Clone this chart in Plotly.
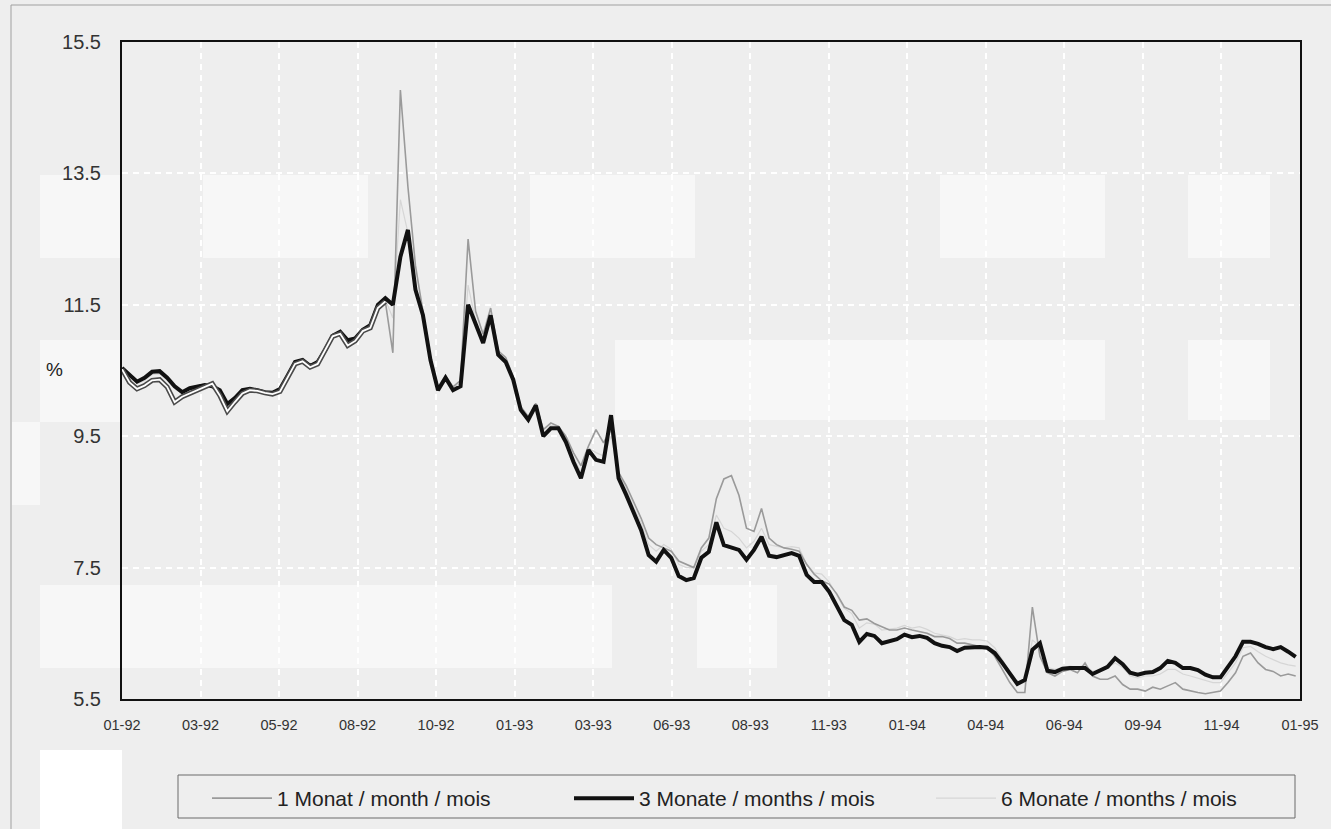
import plotly.graph_objects as go
import pandas as pd

# ---------------- data ----------------
X_TICK_LABELS = ["01-92", "03-92", "05-92", "08-92", "10-92", "01-93", "03-93", "06-93",
                 "08-93", "11-93", "01-94", "04-94", "06-94", "09-94", "11-94", "01-95"]
Y_TICKS = [5.5, 7.5, 9.5, 11.5, 13.5, 15.5]
SERIES_NAMES = ["1 Monat / month / mois", "3 Monate / months / mois", "6 Monate / months / mois"]

# weekly readings, first week of Jan 1992 to end of Dec 1994
THREE_M = [
    10.54, 10.43, 10.33, 10.39, 10.48, 10.49, 10.39, 10.26, 10.17, 10.23,
    10.26, 10.28, 10.26, 10.20, 9.99, 10.08, 10.20, 10.22, 10.20, 10.17,
    10.16, 10.22, 10.42, 10.63, 10.66, 10.57, 10.63, 10.81, 11.03, 11.09,
    10.96, 10.99, 11.12, 11.19, 11.50, 11.60, 11.50, 12.23, 12.64, 11.73,
    11.34, 10.66, 10.20, 10.39, 10.20, 10.26, 11.50, 11.19, 10.92, 11.34,
    10.74, 10.63, 10.36, 9.90, 9.75, 9.97, 9.50, 9.62, 9.62, 9.41,
    9.11, 8.86, 9.29, 9.14, 9.11, 9.82, 8.86, 8.61, 8.33, 8.07,
    7.69, 7.59, 7.77, 7.65, 7.37, 7.31, 7.34, 7.65, 7.74, 8.19,
    7.84, 7.80, 7.77, 7.62, 7.77, 7.97, 7.68, 7.66, 7.69, 7.72,
    7.68, 7.39, 7.28, 7.28, 7.13, 6.93, 6.70, 6.63, 6.37, 6.49,
    6.46, 6.35, 6.38, 6.41, 6.48, 6.44, 6.46, 6.43, 6.35, 6.31,
    6.29, 6.23, 6.28, 6.29, 6.29, 6.28, 6.20, 6.05, 5.90, 5.73,
    5.79, 6.25, 6.35, 5.93, 5.91, 5.96, 5.97, 5.97, 5.97, 5.88,
    5.94, 5.99, 6.12, 6.03, 5.90, 5.87, 5.90, 5.91, 5.97, 6.08,
    6.05, 5.97, 5.97, 5.94, 5.87, 5.83, 5.83, 6.00, 6.15, 6.37,
    6.37, 6.34, 6.29, 6.26, 6.29, 6.22, 6.14,
]
ONE_M = [
    10.52, 10.32, 10.22, 10.27, 10.35, 10.36, 10.25, 10.02, 10.10, 10.15,
    10.20, 10.24, 10.30, 10.12, 9.88, 10.02, 10.15, 10.20, 10.19, 10.16,
    10.14, 10.18, 10.38, 10.60, 10.64, 10.55, 10.60, 10.80, 11.02, 11.06,
    10.88, 10.95, 11.10, 11.15, 11.45, 11.55, 10.77, 14.77, 13.30, 12.10,
    11.40, 10.70, 10.25, 10.42, 10.25, 10.35, 12.50, 11.40, 11.05, 11.45,
    10.80, 10.70, 10.40, 9.95, 9.80, 10.00, 9.60, 9.70, 9.65, 9.50,
    9.25, 9.05, 9.35, 9.60, 9.40, 9.60, 8.95, 8.75, 8.50, 8.25,
    7.95, 7.85, 7.80, 7.75, 7.60, 7.55, 7.50, 7.80, 7.95, 8.55,
    8.85, 8.90, 8.60, 8.10, 8.05, 8.40, 7.95, 7.85, 7.80, 7.78,
    7.75, 7.55, 7.40, 7.30, 7.25, 7.10, 6.90, 6.85, 6.70, 6.72,
    6.65, 6.60, 6.55, 6.55, 6.58, 6.55, 6.52, 6.50, 6.45, 6.45,
    6.42, 6.35, 6.35, 6.32, 6.30, 6.28, 6.15, 5.95, 5.75, 5.60,
    5.60, 6.90, 6.15, 5.90, 5.85, 5.92, 5.95, 5.90, 6.05, 5.85,
    5.80, 5.80, 5.85, 5.72, 5.65, 5.65, 5.62, 5.68, 5.65, 5.70,
    5.75, 5.65, 5.62, 5.60, 5.58, 5.60, 5.62, 5.75, 5.90, 6.15,
    6.20, 6.05, 5.95, 5.92, 5.85, 5.88, 5.85,
]
SIX_M = [
    10.50, 10.40, 10.30, 10.35, 10.44, 10.45, 10.35, 10.22, 10.15, 10.20,
    10.24, 10.26, 10.25, 10.18, 9.98, 10.05, 10.18, 10.20, 10.18, 10.16,
    10.15, 10.20, 10.40, 10.60, 10.64, 10.56, 10.60, 10.78, 11.00, 11.06,
    10.94, 10.98, 11.10, 11.17, 11.48, 11.58, 11.30, 13.10, 12.60, 11.80,
    11.40, 10.72, 10.22, 10.40, 10.25, 10.30, 11.80, 11.25, 10.98, 11.38,
    10.78, 10.66, 10.40, 9.93, 9.78, 9.98, 9.55, 9.66, 9.66, 9.46,
    9.18, 8.95, 9.32, 9.25, 9.20, 9.50, 8.92, 8.70, 8.42, 8.18,
    7.85, 7.75, 7.85, 7.78, 7.55, 7.50, 7.50, 7.75, 7.85, 8.30,
    8.10, 8.05, 7.95, 7.80, 7.90, 8.10, 7.85, 7.82, 7.80, 7.82,
    7.80, 7.55, 7.42, 7.40, 7.28, 7.08, 6.88, 6.80, 6.58, 6.66,
    6.64, 6.55, 6.56, 6.58, 6.62, 6.58, 6.60, 6.56, 6.50, 6.48,
    6.45, 6.40, 6.42, 6.40, 6.40, 6.38, 6.28, 6.10, 5.92, 5.72,
    5.75, 6.40, 6.30, 5.98, 5.95, 5.98, 6.00, 5.98, 6.02, 5.92,
    5.95, 5.98, 6.05, 5.98, 5.85, 5.82, 5.85, 5.85, 5.88, 5.95,
    5.95, 5.88, 5.85, 5.82, 5.78, 5.75, 5.75, 5.90, 6.05, 6.28,
    6.30, 6.22, 6.15, 6.10, 6.05, 6.02, 6.00,
]
assert len(THREE_M) == len(ONE_M) == len(SIX_M)

dates = pd.date_range("1992-01-01", periods=len(THREE_M), freq="7D")
HOLLOW_END = 36  # 1-month line appears as a double (hollow) stroke through Aug 1992

start, end = pd.Timestamp("1992-01-01"), pd.Timestamp("1995-01-01")
n = len(X_TICK_LABELS) - 1
tickvals = [start + (end - start) * k / n for k in range(n + 1)]

# ---------------- geometry helpers ----------------
W, H = 1331, 829
L, R, T, B = 122, 31, 42, 130
PW, PH = W - L - R, H - T - B


def px(x):
    return (x - L) / PW


def py(y):
    return (H - B - y) / PH


FONT = "Liberation Sans, Arial, sans-serif"
BG = "#eeeeee"

fig = go.Figure()
fig.add_trace(go.Scatter(x=dates, y=SIX_M, mode="lines", name=SERIES_NAMES[2], legendrank=3,
                         line=dict(color="#d6d6d6", width=1.2)))
fig.add_trace(go.Scatter(x=dates, y=ONE_M, mode="lines", name=SERIES_NAMES[0], legendrank=1,
                         line=dict(color="#9a9a9a", width=1.6)))
fig.add_trace(go.Scatter(x=dates, y=THREE_M, mode="lines", name=SERIES_NAMES[1], legendrank=2,
                         line=dict(color="#111111", width=4)))
fig.add_trace(go.Scatter(x=dates[:HOLLOW_END], y=ONE_M[:HOLLOW_END], mode="lines", showlegend=False,
                         line=dict(color="#4a4a4a", width=5), hoverinfo="skip"))
fig.add_trace(go.Scatter(x=dates[:HOLLOW_END], y=ONE_M[:HOLLOW_END], mode="lines", showlegend=False,
                         line=dict(color="#ffffff", width=1.8), hoverinfo="skip"))

# faint light blocks of the scanned background
light_blocks = [(40, 175, 120, 258), (203, 175, 368, 258), (530, 175, 695, 258), (940, 175, 1105, 258),
                (1188, 175, 1270, 258), (40, 340, 120, 422), (615, 340, 1105, 420), (1188, 340, 1270, 420),
                (12, 422, 40, 505), (40, 585, 612, 668), (697, 585, 777, 668)]
shapes = []
for (x0, y0, x1, y1) in light_blocks:
    shapes.append(dict(type="rect", xref="paper", yref="paper", x0=px(x0), x1=px(x1), y0=py(y1), y1=py(y0),
                       fillcolor="#f7f7f7", line=dict(width=0), layer="below"))
shapes.append(dict(type="rect", xref="paper", yref="paper", x0=px(40), x1=px(122), y0=py(829), y1=py(750),
                   fillcolor="#ffffff", line=dict(width=0), layer="below"))
# outer frame of the scanned page
shapes.append(dict(type="line", xref="paper", yref="paper", x0=px(11), x1=px(11), y0=py(829), y1=py(5),
                   line=dict(color="#a0a0a0", width=1)))
shapes.append(dict(type="line", xref="paper", yref="paper", x0=px(11), x1=px(1331), y0=py(5), y1=py(5),
                   line=dict(color="#a0a0a0", width=1)))
# legend box
shapes.append(dict(type="rect", xref="paper", yref="paper", x0=px(178), x1=px(1295), y0=py(818), y1=py(775),
                   line=dict(color="#6a6a6a", width=1), fillcolor="rgba(0,0,0,0)"))

fig.update_layout(
    width=W, height=H,
    margin=dict(l=L, r=R, t=T, b=B, pad=0, autoexpand=False),
    paper_bgcolor=BG, plot_bgcolor="rgba(0,0,0,0)",
    font=dict(family=FONT, color="#222222"),
    showlegend=True,
    legend=dict(orientation="h", x=px(207), y=py(778), xanchor="left", yanchor="top",
                bgcolor="rgba(0,0,0,0)", borderwidth=0, font=dict(size=21, family=FONT, color="#222222"),
                entrywidth=287, entrywidthmode="pixels", itemwidth=60, traceorder="normal"),
    shapes=shapes,
    annotations=[dict(text="%", xref="paper", yref="paper", x=px(44), y=py(369), showarrow=False,
                      font=dict(size=19, family=FONT, color="#222222"))],
    xaxis=dict(type="date", range=[start, end], tickvals=tickvals, ticktext=X_TICK_LABELS,
               showline=True, linecolor="#111111", linewidth=2, mirror=True,
               showgrid=True, gridcolor="#ffffff", gridwidth=2, griddash="6px,5px",
               ticks="", tickfont=dict(size=14.5, family=FONT, color="#333333"), ticklabelstandoff=12,
               zeroline=False),
    yaxis=dict(range=[5.5, 15.5], tickvals=Y_TICKS, ticktext=[f"{v:.1f}" for v in Y_TICKS],
               showline=True, linecolor="#111111", linewidth=2, mirror=True,
               showgrid=True, gridcolor="#ffffff", gridwidth=2, griddash="6px,5px",
               ticks="", tickfont=dict(size=20, family=FONT, color="#333333"), ticklabelstandoff=15,
               zeroline=False),
)

fig.write_html("out.html", config={"displayModeBar": False},
               post_script="document.body.style.margin='0px';")
